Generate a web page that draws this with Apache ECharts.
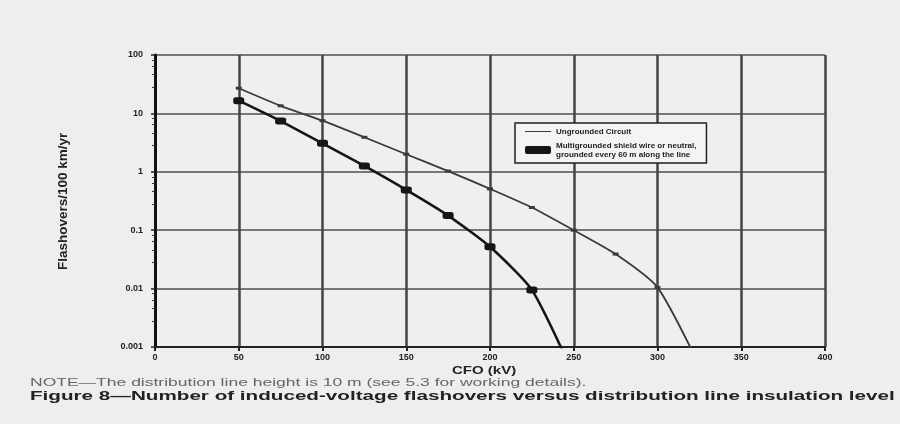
<!DOCTYPE html>
<html><head><meta charset="utf-8">
<script src="https://cdn.jsdelivr.net/npm/echarts@6/dist/echarts.min.js"></script>
<style>html,body{margin:0;padding:0;background:#eeeeee;}#c{width:900px;height:424px;}</style>
</head><body><div id="c"></div>
<script>
var cfo = [50, 75, 100, 125, 150, 175, 200, 225, 250, 275, 300, 325];
var ungrounded = [27, 13.5, 7.5, 3.9, 2.0, 1.03, 0.51, 0.245, 0.1, 0.039, 0.0105, 0.00048];
var cfoGrounded = [50, 75, 100, 125, 150, 175, 200, 225, 250];
var grounded = [16.5, 7.4, 3.07, 1.26, 0.49, 0.178, 0.052, 0.0095, 0.00033];
var xTicks = [0, 50, 100, 150, 200, 250, 300, 350, 400];
var yTicks = ['100', '10', '1', '0.1', '0.01', '0.001'];
var seriesNames = ['Ungrounded Circuit', 'Multigrounded shield wire or neutral,\ngrounded every 60 m along the line'];
var yTitle = 'Flashovers/100 km/yr';
var xTitle = 'CFO (kV)';
var note = 'NOTE\u2014The distribution line height is 10 m (see 5.3 for working details).';
var caption = 'Figure 8\u2014Number of induced-voltage flashovers versus distribution line insulation level';

function pairs(xs, ys){ return xs.map(function(x,i){ return [x, ys[i]]; }); }

var chart = echarts.init(document.getElementById('c'));
chart.setOption({
  backgroundColor: '#eeeeee',
  animation: false,
  textStyle: { fontFamily: 'Liberation Sans, Arial, sans-serif' },
  grid: { left: 155, right: 75, top: 55, bottom: 77, show: true, backgroundColor: '#efefef', borderWidth: 0 },
  xAxis: {
    type: 'value', min: 0, max: 400, interval: 50,
    axisLine: { lineStyle: { color: '#222', width: 2 } },
    axisTick: { show: true, length: 4, lineStyle: { color: '#222', width: 2 } },
    axisLabel: { color: '#222', fontSize: 9, fontWeight: 'bold', margin: 6,
      formatter: function(v){ return xTicks.indexOf(v) >= 0 ? String(v) : ''; } },
    splitLine: { show: true, lineStyle: { color: '#444', width: 2.5 } }
  },
  yAxis: {
    type: 'log', logBase: 10, min: 0.001, max: 100,
    axisLine: { show: true, lineStyle: { color: '#111', width: 3 } },
    axisTick: { show: true, length: 4, lineStyle: { color: '#222', width: 1.5 } },
    minorTick: { show: true, splitNumber: 5, length: 3, lineStyle: { color: '#333', width: 1 } },
    axisLabel: { color: '#222', fontSize: 9, fontWeight: 'bold', margin: 12,
      formatter: function(v){ var i = Math.round(2 - Math.log10(v)); return yTicks[i] !== undefined ? yTicks[i] : ''; } },
    splitLine: { show: true, lineStyle: { color: '#777', width: 2 } }
  },
  legend: {
    orient: 'vertical', left: 515, top: 123, width: 268,
    backgroundColor: '#f4f4f4', borderColor: '#222', borderWidth: 1.5,
    padding: [4, 10, 4, 10], itemGap: 5, itemWidth: 26, itemHeight: 8,
    textStyle: { fontSize: 8, color: '#222', fontWeight: 'bold', lineHeight: 9 },
    data: [
      { name: seriesNames[0], icon: 'path://M0,4 L26,4 L26,5 L0,5 Z' },
      { name: seriesNames[1], icon: 'roundRect' }
    ]
  },
  series: [
    { name: seriesNames[0], type: 'line', data: pairs(cfo, ungrounded), clip: true, smooth: 0.2,
      lineStyle: { color: '#3a3a3a', width: 1.8 }, itemStyle: { color: '#3a3a3a' },
      symbol: 'rect', symbolSize: [6, 3], z: 3 },
    { name: seriesNames[1], type: 'line', data: pairs(cfoGrounded, grounded), clip: true, smooth: 0.2,
      lineStyle: { color: '#151515', width: 2.6 }, itemStyle: { color: '#151515' },
      symbol: 'roundRect', symbolSize: [11, 7], z: 4 }
  ],
  graphic: [
    { type: 'text', x: 56, y: 270, rotation: Math.PI/2, style: { text: yTitle, font: 'bold 13.5px Liberation Sans', fill: '#222' } },
    { type: 'text', x: 452, y: 366, scaleX: 1.5, style: { text: xTitle, font: 'bold 10px Liberation Sans', fill: '#222' } },
    { type: 'text', x: 30, y: 378, scaleX: 1.75, style: { text: note, font: '10px Liberation Sans', fill: '#666' } },
    { type: 'text', x: 30, y: 391, scaleX: 1.72, style: { text: caption, font: 'bold 12px Liberation Sans', fill: '#222' } }
  ]
});
</script></body></html>
